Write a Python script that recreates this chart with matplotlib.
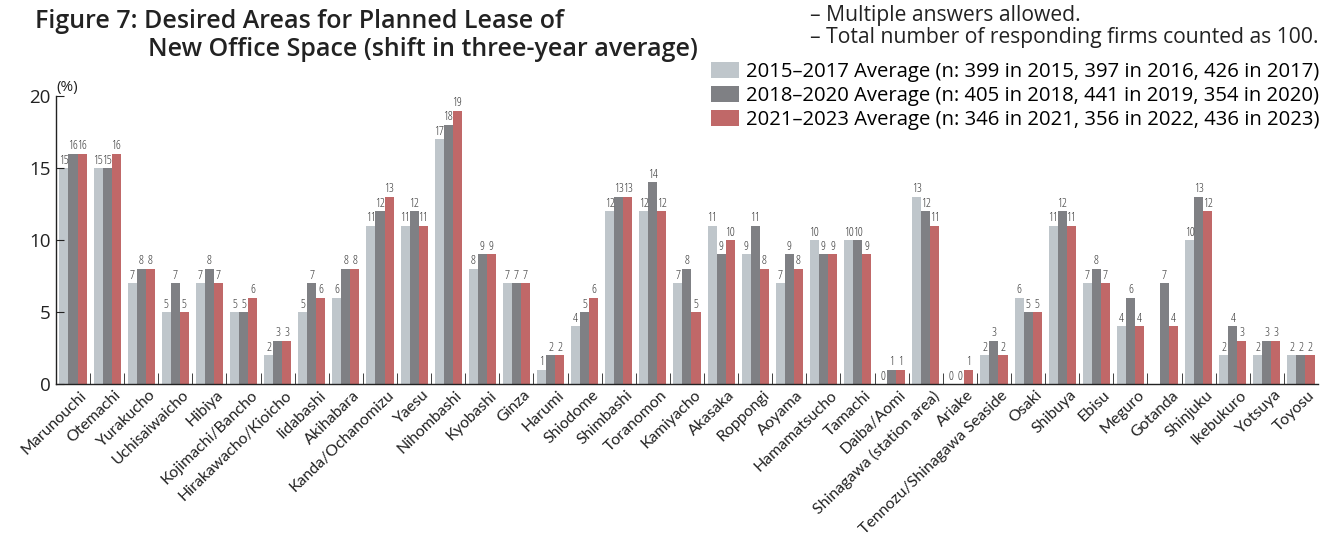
import numpy as np
import matplotlib
matplotlib.use("Agg")
import matplotlib.pyplot as plt
from matplotlib.patches import Patch
from matplotlib.transforms import ScaledTranslation

plt.rcParams['font.family'] = ['Open Sans', 'DejaVu Sans']

categories = ["Marunouchi", "Otemachi", "Yurakucho", "Uchisaiwaicho", "Hibiya",
              "Kojimachi/Bancho", "Hirakawacho/Kioicho", "Iidabashi", "Akihabara",
              "Kanda/Ochanomizu", "Yaesu", "Nihombashi", "Kyobashi", "Ginza", "Harumi",
              "Shiodome", "Shimbashi", "Toranomon", "Kamiyacho", "Akasaka", "Roppongi",
              "Aoyama", "Hamamatsucho", "Tamachi", "Daiba/Aomi", "Shinagawa (station area)",
              "Ariake", "Tennozu/Shinagawa Seaside", "Osaki", "Shibuya", "Ebisu", "Meguro",
              "Gotanda", "Shinjuku", "Ikebukuro", "Yotsuya", "Toyosu"]

avg_2015_2017 = [15, 15, 7, 5, 7, 5, 2, 5, 6, 11, 11, 17, 8, 7, 1, 4, 12, 12, 7, 11, 9,
                 7, 10, 10, 0, 13, 0, 2, 6, 11, 7, 4, np.nan, 10, 2, 2, 2]
avg_2018_2020 = [16, 15, 8, 7, 8, 5, 3, 7, 8, 12, 12, 18, 9, 7, 2, 5, 13, 14, 8, 9, 11,
                 9, 9, 10, 1, 12, 0, 3, 5, 12, 8, 6, 7, 13, 4, 3, 2]
avg_2021_2023 = [16, 16, 8, 5, 7, 6, 3, 6, 8, 13, 11, 19, 9, 7, 2, 6, 13, 12, 5, 10, 8,
                 8, 9, 9, 1, 11, 1, 2, 5, 11, 7, 4, 4, 12, 3, 3, 2]

series_labels = ["2015\u20132017 Average (n: 399 in 2015, 397 in 2016, 426 in 2017)",
                 "2018\u20132020 Average (n: 405 in 2018, 441 in 2019, 354 in 2020)",
                 "2021\u20132023 Average (n: 346 in 2021, 356 in 2022, 436 in 2023)"]
colors = ["#BFC6CB", "#7F8084", "#C06868"]

fig = plt.figure(figsize=(13.32, 5.37), dpi=100)
ax = fig.add_axes([0.042, 0.285, 0.9475, 0.536])

x = np.arange(len(categories))
w = 0.265
series = [avg_2015_2017, avg_2018_2020, avg_2021_2023]
for i, (vals, c) in enumerate(zip(series, colors)):
    vals = np.array(vals, dtype=float)
    pos = x + (i - 1) * w
    ax.bar(pos, np.nan_to_num(vals), width=w, color=c, edgecolor='none')
    for p, v in zip(pos, vals):
        if np.isnan(v):
            continue
        ax.text(p, v + 0.1, f"{int(v)}", ha='center', va='bottom', fontsize=8.8,
                color='#333333', fontstretch='condensed')

ax.set_xlim(-0.5, len(categories) - 0.5)
ax.set_ylim(0, 20)
ax.set_yticks([0, 5, 10, 15, 20])
ax.tick_params(axis='y', direction='in', length=6, labelsize=13.5, colors='#222222', pad=4)
ax.set_xticks(x)
ax.set_xticklabels(categories, rotation=44, ha='right', rotation_mode='anchor',
                   fontsize=11.4, color='#222222', family=['Lato', 'DejaVu Sans'])
ax.tick_params(axis='x', length=0, pad=3)
offset = ScaledTranslation(7 / 100, 0, fig.dpi_scale_trans)
for lbl in ax.get_xticklabels():
    lbl.set_transform(lbl.get_transform() + offset)
ax.set_xticks(np.arange(0.5, len(categories) - 0.5, 1), minor=True)
ax.tick_params(axis='x', which='minor', direction='in', length=8, color='#222222')
for s in ['top', 'right']:
    ax.spines[s].set_visible(False)
for s in ['left', 'bottom']:
    ax.spines[s].set_color('#222222')
    ax.spines[s].set_linewidth(1.0)

ax.text(0.0, 1.005, "(%)", transform=ax.transAxes, fontsize=11, color='#222222',
        ha='left', va='bottom')

fig.text(35 / 1332, 1 - 21 / 537, "Figure 7: Desired Areas for Planned Lease of",
         fontsize=18, fontweight='semibold', color='#222222', va='center', ha='left')
fig.text(148 / 1332, 1 - 49 / 537, "New Office Space (shift in three-year average)",
         fontsize=18, fontweight='semibold', color='#222222', va='center', ha='left')

fig.text(1318 / 1332, 1 - 38 / 537, "\u2013 Total number of responding firms counted as 100.",
         fontsize=15.2, color='#222222', va='center', ha='right')
t_total = fig.texts[-1]
fig.canvas.draw()
bb = t_total.get_window_extent()
fig.text(bb.x0 / fig.bbox.width, 1 - 15 / 537, "\u2013 Multiple answers allowed.",
         fontsize=15.2, color='#222222', va='center', ha='left')

handles = [Patch(facecolor=c, edgecolor='none') for c in colors]
fig.legend(handles, series_labels, loc='upper right',
           bbox_to_anchor=(1320 / 1332, 1 - 62 / 537), frameon=False, fontsize=14.6,
           handlelength=1.4, handleheight=0.85, handletextpad=0.35, labelspacing=0.2,
           borderaxespad=0, borderpad=0)

fig.savefig("out.png", dpi=100)
